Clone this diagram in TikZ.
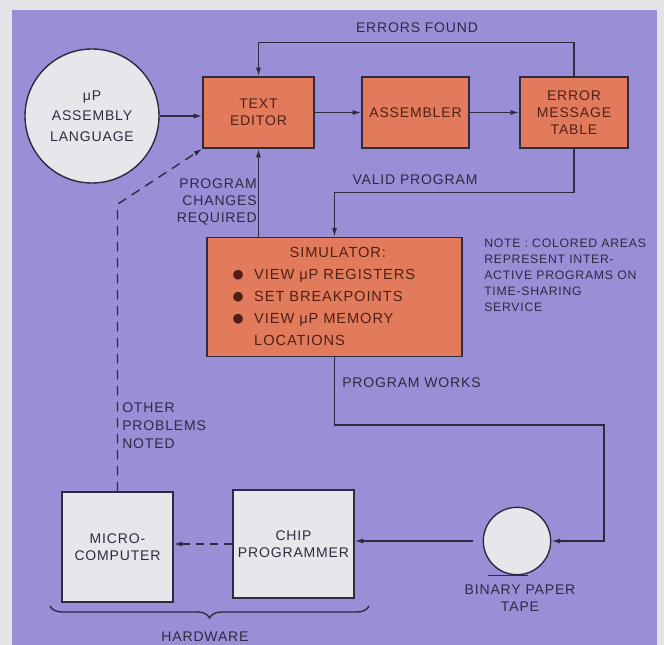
\documentclass[tikz,border=0pt]{standalone}
\usepackage{fontspec}
\setmainfont{Liberation Sans}[LetterSpace=6]
\newfontfamily\dotfont{DejaVu Sans}
\usepackage{tikz}
\usetikzlibrary{arrows.meta, positioning, decorations.pathreplacing}

\definecolor{bggray}{RGB}{228,228,232}
\definecolor{purp}{RGB}{154,143,214}
\definecolor{orng}{RGB}{226,123,91}
\definecolor{pale}{RGB}{231,231,235}
\definecolor{ink}{RGB}{43,43,66}
\definecolor{brn}{RGB}{80,32,22}
\newcommand{\simdot}{\raisebox{0.8pt}{\fontsize{9.5}{11}\dotfont ●}}

\begin{document}
\begin{tikzpicture}[x=0.75pt, y=-0.75pt, >={Latex[length=6.5pt,width=3.8pt]},
    every node/.style={font=\fontsize{10.5}{13}\selectfont, text=ink},
    line/.style={draw=ink, line width=1.05pt},
    hotbox/.style={rectangle, draw=ink, line width=1.05pt, fill=orng, text=brn, align=center},
    hwbox/.style={rectangle, draw=ink, line width=1.05pt, fill=pale, align=center},
    lbl/.style={inner sep=0pt, align=left}]
    \fill[bggray] (0,0) rectangle (664,645);
    \fill[purp] (12,10) rectangle (657,645);
    \useasboundingbox (0,0) rectangle (664,645);

    \node[circle, draw=ink, line width=1.05pt, fill=pale, minimum size=100.5pt, inner sep=0pt, align=center, font=\fontsize{10.5}{15.5}\selectfont] (circ) at (92,116) {μP\\ASSEMBLY\\LANGUAGE};
    \node[hotbox, minimum width=83.25pt, minimum height=53.25pt] (TE) at (258.5,112.5) {TEXT\\EDITOR};
    \node[hotbox, minimum width=80.25pt, minimum height=53.25pt] (ASM) at (415.5,112.5) {ASSEMBLER};
    \node[hotbox, minimum width=81pt, minimum height=53.25pt] (EMT) at (574,112.5) {ERROR\\MESSAGE\\TABLE};
    \node[hotbox, minimum width=191.25pt, minimum height=88.5pt, font=\fontsize{11}{16.5}\selectfont] (sim) at (334.5,297) {\begin{tabular}{@{}c@{\hspace{8pt}}l@{\hspace{16pt}}}
        \multicolumn{2}{c@{\hspace{16pt}}}{\hspace*{15pt}SIMULATOR:}\\
        \simdot & VIEW μP REGISTERS\\
        \simdot & SET BREAKPOINTS\\
        \simdot & VIEW μP MEMORY\\
        & LOCATIONS
    \end{tabular}};
    \node[hwbox, minimum width=83.25pt, minimum height=82.5pt] (micro) at (117.5,547) {MICRO-\\COMPUTER};
    \node[hwbox, minimum width=90.75pt, minimum height=81pt] (chip) at (293.5,544) {CHIP\\PROGRAMMER};
    \node[circle, draw=ink, line width=1.05pt, fill=pale, minimum size=50.5pt, inner sep=0pt] (tape) at (517,541) {};
    \coordinate (rt) at (604,425);

    \draw[line, ->] (circ.east) -- (circ.east -| TE.west);
    \draw[line, ->] (TE) -- (ASM);
    \draw[line, ->] (ASM) -- (EMT);
    \draw[line, ->] (EMT.north) -- +(0,-34) -| (TE.north);
    \draw[line, ->] (EMT.south) -- +(0,44) -| (sim.north);
    \draw[line, ->] (sim.north -| TE.south) -- (TE.south);
    \draw[line, ->] (sim.south) |- (rt) |- (tape.east);
    \draw[line, ->] (tape.west) ++(-10,0) -- (tape.west -| chip.east);
    \draw[line, ->, dash pattern=on 6pt off 4.5pt] (chip.west) -- (chip.west -| micro.east);
    \draw[line, ->, dash pattern=on 7pt off 5pt] (micro.north) -- +(0,-287) -- (TE.south west);
    \draw[line] (tape.south) ++(-29,0) -- ++(40,0);
    \draw[line, decorate, decoration={brace, mirror, amplitude=9pt}] (50,606) -- (369,606);

    \node[lbl] (errf) at (417,28) {ERRORS FOUND};
    \node[lbl] (valp) at (415,180) {VALID PROGRAM};
    \node[lbl, anchor=east, align=right, font=\fontsize{10.5}{12.75}\selectfont] (pcr) at (257,202) {PROGRAM\\CHANGES\\REQUIRED};
    \node[lbl, anchor=west] (pw) at (342,383) {PROGRAM WORKS};
    \node[lbl, anchor=west, font=\fontsize{10.5}{13.5}\selectfont] (opn) at (122,426) {OTHER\\PROBLEMS\\NOTED};
    \node[lbl, anchor=west, font=\fontsize{9.2}{12}\selectfont] (note) at (484,275) {NOTE : COLORED AREAS\\REPRESENT INTER-\\ACTIVE PROGRAMS ON\\TIME-SHARING\\SERVICE};
    \node[lbl, align=center, font=\fontsize{10.5}{12.75}\selectfont] (bpt) at (520,598) {BINARY PAPER\\TAPE};
    \node[lbl] (hw) at (205,637) {HARDWARE};
\end{tikzpicture}
\end{document}
